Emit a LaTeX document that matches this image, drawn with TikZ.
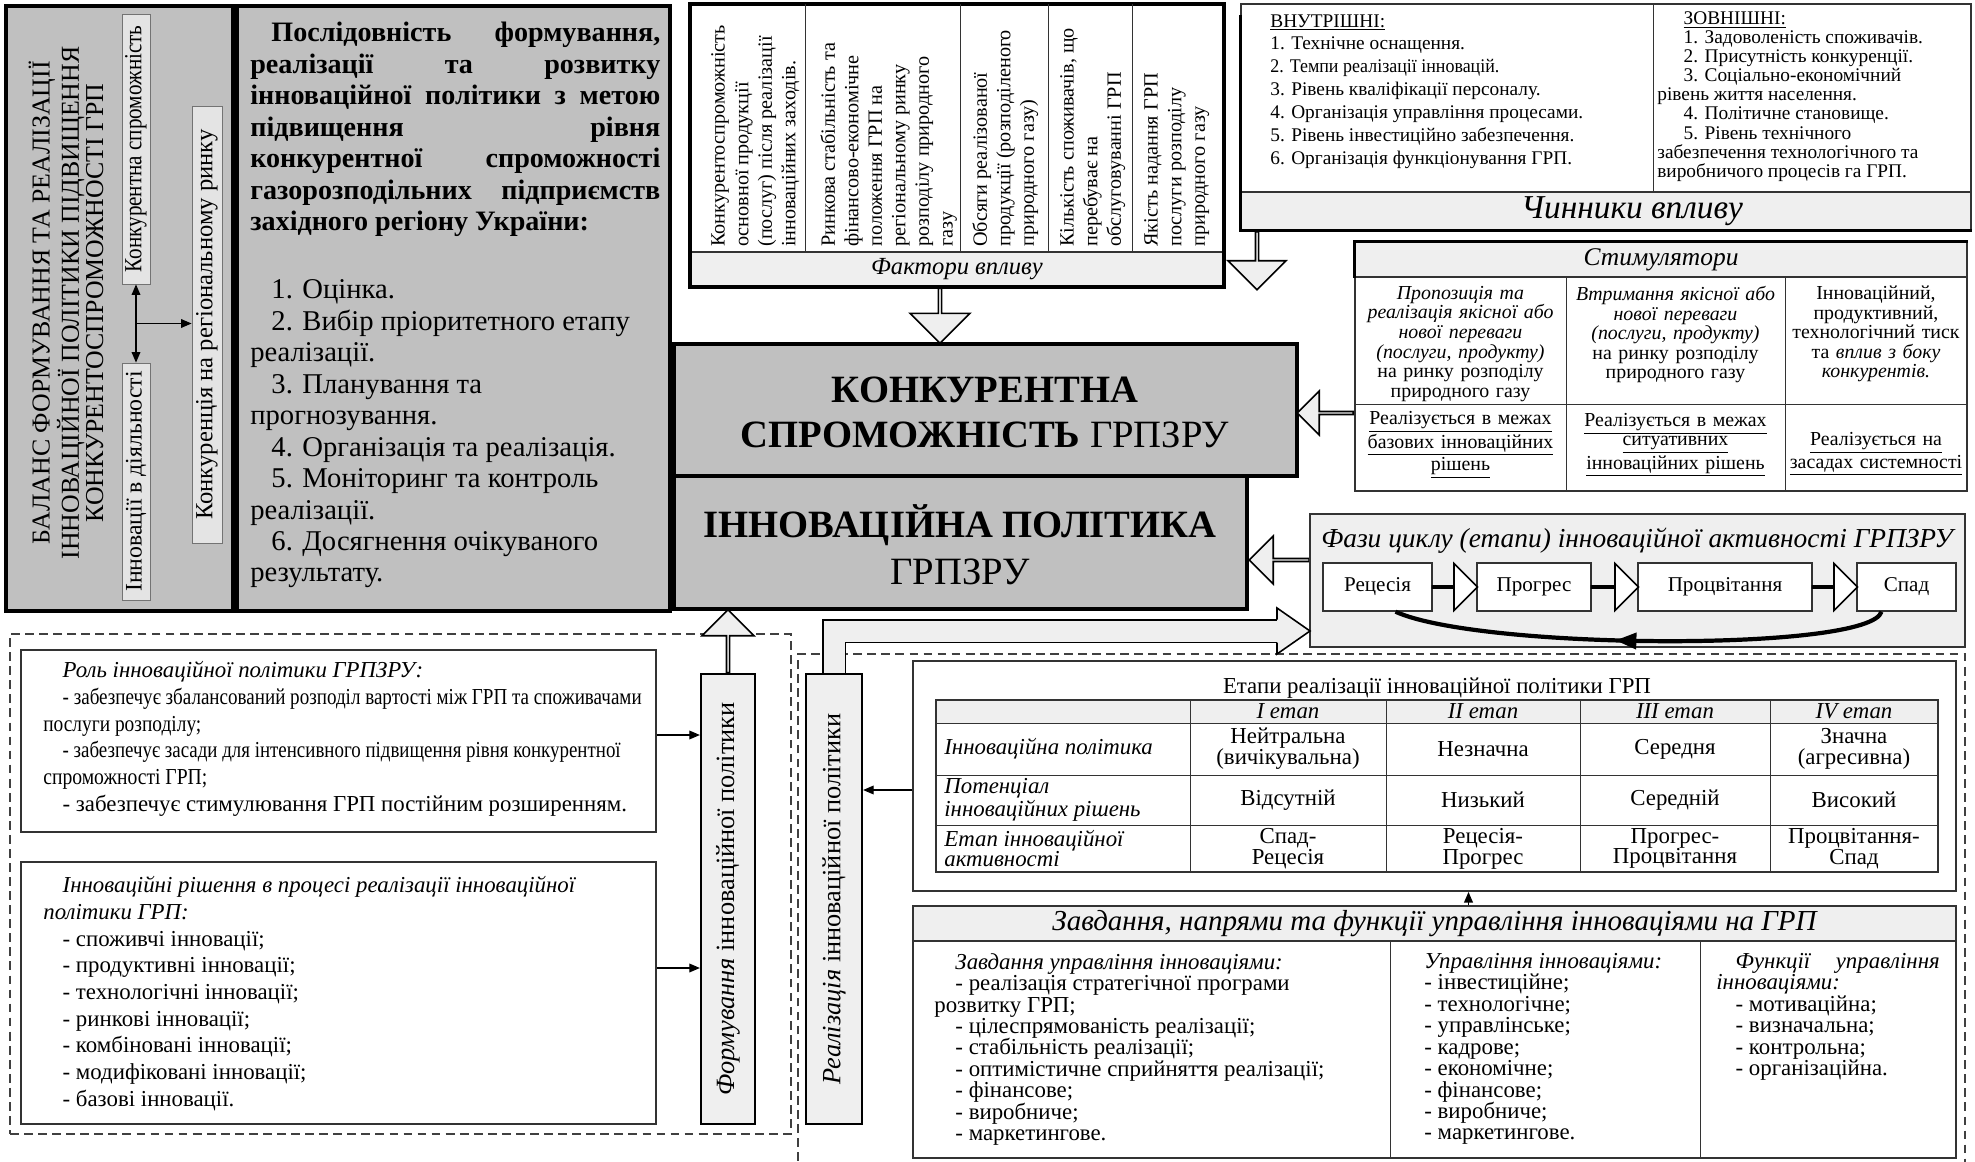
\documentclass[tikz,border=0pt]{standalone}
\usepackage{fontspec}
\usepackage{graphicx}
\setmainfont{Liberation Serif}
\newfontfamily\narrowfont[FakeStretch=0.86]{Liberation Serif}
\usetikzlibrary{positioning,fit,calc,shapes.arrows,arrows.meta,decorations.markings}
\definecolor{panelgray}{HTML}{C0C0C0}
\definecolor{stripgray}{HTML}{EFEFEF}
\definecolor{taggray}{HTML}{E4E4E4}
\definecolor{linegray}{HTML}{333333}
\newlength\px
\setlength\px{0.02cm}
\newcommand\fsz[2]{\fontsize{#1}{#2}\selectfont}
\newcommand\squeeze[2]{\resizebox{#1\px}{\height}{#2}}
\tikzset{
panel/.style={draw=black,line width=2pt,fill=panelgray,inner sep=0pt},
thinbox/.style={draw=linegray,line width=0.7pt,inner sep=0pt},
stripbox/.style={draw=linegray,line width=0.7pt,fill=stripgray,inner sep=0pt},
tagbox/.style={draw=black!55,line width=0.5pt,fill=taggray,inner sep=0pt},
labelbar/.style={draw=black,line width=1.3pt,fill=stripgray,inner sep=0pt},
phasebox/.style={draw=linegray,line width=0.8pt,fill=white,inner sep=0pt,minimum height=48\px,font=\fsz{12}{14}},
txt/.style={inner sep=0pt,align=left},
colt/.style={inner sep=0pt,align=left,rotate=90,anchor=north west,font=\fsz{11.5}{13.4}},
stimt/.style={inner sep=0pt,align=center,font=\fsz{11.3}{11.1}},
blockarrow/.style={single arrow,draw=black,line width=0.9pt,fill=stripgray,inner sep=0pt,single arrow head extend=#1},
blockarrow/.default=14\px,
arr/.style={line width=0.6pt,-{Triangle[length=6pt,width=5pt]}},
darr/.style={line width=0.6pt,{Triangle[length=6pt,width=5pt]}-{Triangle[length=6pt,width=5pt]}},
dashbox/.style={draw=black!75,line width=0.6pt,dash pattern=on 5pt off 3pt},
}
\begin{document}
\begin{tikzpicture}[x=0.02cm,y=-0.02cm]
\useasboundingbox (0,0) rectangle (1975,1162);
\fill[white] (0,0) rectangle (1975,1162);

\node[panel,fit={(6,6) (233,611)}] (bal) {};
\node[txt,align=center,rotate=90,font=\fsz{14.7}{13.8}] (baltitle) at (66,303) {БАЛАНС ФОРМУВАННЯ ТА РЕАЛІЗАЦІЇ\\ІННОВАЦІЙНОЇ ПОЛІТИКИ ПІДВИЩЕННЯ\\КОНКУРЕНТОСПРОМОЖНОСТІ ГРП};
\node[tagbox,fit={(122,14) (150,284)}] (kons) {};
\node[txt,rotate=90,font=\narrowfont\fsz{14}{14}] (konstxt) at (kons.center) {Конкурентна спроможність};
\node[tagbox,fit={(122,363) (150,600)}] (innov) {};
\node[txt,rotate=90,font=\fsz{13.5}{14}] (innovtxt) at (innov.center) {Інновації в діяльності};
\node[tagbox,fit={(192,106) (222,543)}] (reg) {};
\node[txt,rotate=90,font=\fsz{14}{14}] (regtxt) at (reg.center) {Конкуренція на регіональному ринку};
\draw[darr] (kons.south) -- (innov.north);
\coordinate (balmid) at ($(kons.south)!0.5!(innov.north)$);
\draw[arr] (balmid) -- (balmid -| reg.west);

\node[panel,fit={(237,6) (670,611)}] (seq) {};
\node[txt,anchor=north west,text width=410\px,align=justify,font=\fsz{16}{17.9}] (seqtxt) at (250,22) {\textbf{\hspace*{12pt}Послідовність формування,\linebreak реалізації та розвитку\linebreak інноваційної політики з метою\linebreak підвищення рівня\linebreak конкурентної спроможності\linebreak газорозподільних підприємств\linebreak західного регіону України:}\\[21pt]
\fsz{16.3}{17.9}\hspace*{12pt}1. Оцінка.\\
\hspace*{12pt}2. Вибір пріоритетного етапу\\
реалізації.\\
\hspace*{12pt}3. Планування та\\
прогнозування.\\
\hspace*{12pt}4. Організація та реалізація.\\
\hspace*{12pt}5. Моніторинг та контроль\\
реалізації.\\
\hspace*{12pt}6. Досягнення очікуваного\\
результату.};

\node[stripbox,fit={(690,252) (1224,287)}] (factstrip) {};
\node[txt,font=\fsz{14}{16}\itshape] (facttitle) at (factstrip.center) {Фактори впливу};
\node[draw=black,line width=1.8pt,inner sep=0pt,fit={(690,4) (1224,287)}] (fact) {};
\foreach \x in {805,960,1048,1132} \draw[linegray,line width=0.5pt] (\x,4) -- (\x,252);
\node[colt] (fact1) at (711,247) {Конкурентоспроможність\\основної продукції\\(послуг) після реалізації\\інноваційних  заходів.};
\node[colt] (fact2) at (820,247) {Ринкова стабільність та\\фінансово-економічне\\положення ГРП на\\регіональному ринку\\розподілу природного\\газу};
\node[colt] (fact3) at (972,247) {Обсяги реалізованої\\продукції (розподіленого\\природного газу)};
\node[colt] (fact4) at (1060,247) {Кількість споживачів, що\\перебуває на\\обслуговуванні ГРП};
\node[colt] (fact5) at (1144,247) {Якість надання ГРП\\послуги розподілу\\природного газу};

\node[stripbox,fit={(1241,192) (1971,230)}] (chinstrip) {};
\node[txt,font=\fsz{19}{20}\itshape] (chintitle) at (1632,211) {Чинники впливу};
\node[thinbox,fit={(1241,4) (1971,230)}] (chin) {};
\draw[linegray,line width=0.5pt] (1653,4) -- (1653,192);
\draw[line width=1.8pt] ([yshift=-12\px]chin.north west) |- (chin.south east);
\node[txt,anchor=north west,font=\fsz{11}{13}] (inttxt) at (1270,14) {\underline{ВНУТРІШНІ:}\\
1. Технічне оснащення.\\
\squeeze{229}{2. Темпи реалізації інновацій.}\\
3. Рівень кваліфікації персоналу.\\
4. Організація управління процесами.\\
5. Рівень інвестиційно забезпечення.\\
6. Організація функціонування ГРП.};
\node[txt,anchor=north west,font=\fsz{11}{10.9}] (exttxt) at (1657,11) {\hspace*{15pt}\underline{ЗОВНІШНІ:}\\
\hspace*{15pt}1. Задоволеність споживачів.\\
\hspace*{15pt}2. Присутність конкуренції.\\
\hspace*{15pt}3. Соціально-економічний\\
рівень життя населення.\\
\hspace*{15pt}4. Політичне становище.\\
\hspace*{15pt}5. Рівень технічного\\
забезпечення технологічного та\\
виробничого процесів га ГРП.};

\node[stripbox,fit={(1355,242) (1967,277)}] (stimhead) {};
\node[txt,font=\fsz{14.5}{16}\itshape] (stimtitle) at (stimhead.center) {Стимулятори};
\node[thinbox,fit={(1355,242) (1967,491)}] (stim) {};
\draw[linegray,line width=0.5pt] (1355,404) -- (1967,404) (1566,277) -- (1566,491) (1785,277) -- (1785,491);
\draw[line width=1.6pt] (stimhead.south west) |- (stimhead.north east);
\node[stimt,anchor=north,text width=209\px] (stima) at (1460.5,286) {\textit{Пропозиція та}\\\textit{реалізація якісної або}\\\textit{нової переваги}\\\textit{(послуги, продукту)}\\на ринку розподілу\\природного газу};
\node[stimt,anchor=north,text width=216\px] (stimb) at (1675.5,286) {\textit{Втримання якісної або}\\\textit{нової переваги}\\\textit{(послуги, продукту)}\\на ринку розподілу\\природного газу};
\node[stimt,anchor=north,text width=180\px] (stimc) at (1876,286) {Інноваційний,\\продуктивний,\\технологічний тиск\\та \textit{вплив з боку}\\\textit{конкурентів.}};
\node[stimt,text width=209\px] (stimd) at (1460.5,445) {\underline{Реалізується в межах}\\\underline{базових інноваційних}\\\underline{рішень}};
\node[stimt,text width=216\px] (stime) at (1675.5,445) {\underline{Реалізується в межах}\\\underline{ситуативних}\\\underline{інноваційних рішень}};
\node[stimt,text width=180\px] (stimf) at (1876,454) {\underline{Реалізується на}\\\underline{засадах  системності}};

\node[panel,line width=2.4pt,fit={(674,476) (1247,609)}] (innpol) {};
\node[txt,align=center,font=\fsz{22}{26.7}] (innpoltxt) at (960,545) {\textbf{ІННОВАЦІЙНА ПОЛІТИКА}\\ГРПЗРУ};
\node[panel,line width=2.4pt,fit={(674,344) (1297,476)}] (konk) {};
\node[txt,align=center,font=\fsz{22}{25.6}] (konktxt) at (985,412) {\textbf{КОНКУРЕНТНА}\\\textbf{СПРОМОЖНІСТЬ} ГРПЗРУ};

\node[blockarrow=14\px,rotate=-90,minimum height=55\px,minimum width=60\px] (factarrow) at (940,315) {};
\node[blockarrow=14\px,rotate=-90,minimum height=58\px,minimum width=58\px] (chinarrow) at (1257,260) {};
\node[blockarrow=11\px,rotate=180,minimum height=56\px,minimum width=44\px] (stimarrow) at (1326,413) {};
\node[blockarrow=12\px,rotate=180,minimum height=60\px,minimum width=48\px] (phasearrow) at (1280,560) {};

\node[stripbox,draw=linegray,line width=1.3pt,fit={(1310,514) (1965,647)}] (phase) {};
\node[txt,font=\fsz{15.6}{18}\itshape] (phasetitle) at (1637,541) {Фази циклу (етапи) інноваційної активності ГРПЗРУ};
\node[phasebox,minimum width=109\px] (recess) at (1377.5,587) {Рецесія};
\node[phasebox,minimum width=114\px] (progress) at (1534,587) {Прогрес};
\node[phasebox,minimum width=174\px] (prosper) at (1725,587) {Процвітання};
\node[phasebox,minimum width=99\px] (decline) at (1906.5,587) {Спад};
\node[blockarrow=17.5\px,fill=white,minimum height=45\px,minimum width=47\px] (pa1) at ($(recess.east)!0.5!(progress.west)$) {};
\node[blockarrow=17.5\px,fill=white,minimum height=47\px,minimum width=47\px] (pa2) at ($(progress.east)!0.5!(prosper.west)$) {};
\node[blockarrow=17.5\px,fill=white,minimum height=45\px,minimum width=47\px] (pa3) at ($(prosper.east)!0.5!(decline.west)$) {};
\draw[line width=2.4pt,postaction={decorate},decoration={markings,mark=at position 0.55 with {\arrow{Triangle[length=12pt,width=9pt]}}}] ([xshift=-25\px]decline.south) .. controls (1870,652) and (1480,650) .. ([xshift=18\px]recess.south);

\node[dashbox,inner sep=0pt,fit={(10,634) (791,1134)}] (formzone) {};
\draw[dashbox] (798,1175) |- (1965,654) -- (1965,1175);

\node[thinbox,line width=0.9pt,fit={(21,650) (656,832)}] (role) {};
\node[txt,anchor=north west,font=\fsz{13}{15.2}] (roletxt) at (43,661) {\hspace*{11pt}\textit{Роль інноваційної політики ГРПЗРУ:}\\
\hspace*{11pt}\squeeze{579}{- забезпечує збалансований розподіл вартості між ГРП та споживачами}\\
\squeeze{158}{послуги розподілу;}\\
\hspace*{11pt}\squeeze{558}{- забезпечує засади для інтенсивного підвищення рівня конкурентної}\\
\squeeze{164}{спроможності ГРП;}\\
\hspace*{11pt}- забезпечує  стимулювання ГРП постійним розширенням.};
\node[thinbox,line width=0.9pt,fit={(21,862) (656,1124)}] (sol) {};
\node[txt,anchor=north west,font=\fsz{13}{15.2}] (soltxt) at (43,876) {\hspace*{11pt}\textit{Інноваційні рішення в процесі реалізації інноваційної}\\
\textit{політики ГРП:}\\
\hspace*{11pt}- споживчі інновації;\\
\hspace*{11pt}- продуктивні інновації;\\
\hspace*{11pt}- технологічні інновації;\\
\hspace*{11pt}- ринкові інновації;\\
\hspace*{11pt}- комбіновані інновації;\\
\hspace*{11pt}- модифіковані інновації;\\
\hspace*{11pt}- базові інновації.};

\node[labelbar,fit={(701,674) (755,1124)}] (form) {};
\node[txt,rotate=90,font=\fsz{15}{17}] (formtxt) at (form.center) {\textit{Формування} інноваційної політики};
\node[blockarrow=12.5\px,rotate=90,minimum height=63\px,minimum width=52\px] (formarrow) at ($(form.north)!0.5!(form.north |- innpol.south)$) {};
\draw[arr] ([yshift=6\px]role.east) -- ([yshift=6\px]role.east -| form.west);
\draw[arr] ([yshift=25\px]sol.east) -- ([yshift=25\px]sol.east -| form.west);

\coordinate (rhead) at (1277,631);
\draw[draw=black,line width=0.9pt,double=stripgray,double distance=21\px] (834,674) |- (rhead);
\filldraw[fill=stripgray,draw=black,line width=0.9pt] (rhead) ++(0,-11.5) -- ++(0,-11.5) -- ++(33,23) -- ++(-33,23) -- ++(0,-11.5);
\node[labelbar,fit={(806,674) (862,1124)}] (real) {};
\node[txt,rotate=90,font=\fsz{15}{17}] (realtxt) at (real.center) {\textit{Реалізація} інноваційної політики};

\node[thinbox,line width=1.1pt,fit={(913,661) (1956,891)}] (stages) {};
\node[txt,font=\fsz{13}{15}] (stagestitle) at (1437,688) {Етапи реалізації інноваційної політики ГРП};
\fill[stripgray] (936,700) rectangle (1938,723);
\draw[linegray,line width=0.6pt] (936,700) rectangle (1938,872);
\foreach \y in {723,775,825} \draw[linegray,line width=0.5pt] (936,\y) -- (1938,\y);
\foreach \x in {1190,1386,1580,1770} \draw[linegray,line width=0.5pt] (\x,700) -- (\x,872);
\foreach \x/\t [count=\i] in {1288/I,1483/II,1675/III,1854/IV} \node[txt,font=\fsz{13}{14}\itshape] (head\i) at (\x,711.5) {\t\ етап};
\foreach \y/\lab/\va/\vb/\vc/\vd [count=\r] in {749/{Інноваційна політика}/{Нейтральна\\(вичікувальна)}/{Незначна}/{Середня}/{Значна\\(агресивна)},800/{Потенціал\\інноваційних рішень}/{Відсутній}/{Низький}/{Середній}/{Високий},848.5/{Етап інноваційної\\активності}/{Спад-\\Рецесія}/{Рецесія-\\Прогрес}/{Прогрес-\\Процвітання}/{Процвітання-\\Спад}}{
\node[txt,anchor=west,font=\fsz{13}{11.8}\itshape] (lab\r) at (944,\y) {\lab};
\node[txt,align=center,font=\fsz{13}{11.8}] (va\r) at (1288,\y) {\va};
\node[txt,align=center,font=\fsz{13}{11.8}] (vb\r) at (1483,\y) {\vb};
\node[txt,align=center,font=\fsz{13}{11.8}] (vc\r) at (1675,\y) {\vc};
\node[txt,align=center,font=\fsz{13}{11.8}] (vd\r) at (1854,\y) {\vd};
}
\draw[arr] ([yshift=-14\px]stages.west) -- ([yshift=-14\px]stages.west -| real.east);

\node[stripbox,fit={(913,906) (1956,941)}] (taskhead) {};
\node[txt,font=\fsz{16.5}{18}\itshape] (tasktitle) at (taskhead.center) {Завдання, напрями та функції управління інноваціями на ГРП};
\node[thinbox,line width=1.1pt,fit={(913,906) (1956,1158)}] (tasks) {};
\draw[linegray,line width=0.5pt] (1390,941) -- (1390,1158) (1700,941) -- (1700,1158);
\node[txt,anchor=north west,font=\fsz{13}{12.2}] (taska) at (934,953) {\hspace*{12pt}\textit{Завдання управління інноваціями:}\\
\hspace*{12pt}- реалізація  стратегічної програми\\
розвитку ГРП;\\
\hspace*{12pt}- цілеспрямованість  реалізації;\\
\hspace*{12pt}- стабільність  реалізації;\\
\hspace*{12pt}- оптимістичне сприйняття реалізації;\\
\hspace*{12pt}- фінансове;\\
\hspace*{12pt}- виробниче;\\
\hspace*{12pt}- маркетингове.};
\node[txt,anchor=north west,font=\fsz{13}{12.2}] (taskb) at (1424,953) {\textit{Управління інноваціями:}\\
- інвестиційне;\\
- технологічне;\\
- управлінське;\\
- кадрове;\\
- економічне;\\
- фінансове;\\
- виробниче;\\
- маркетингове.};
\node[txt,anchor=north west,font=\fsz{13}{12.2}] (taskc) at (1716,953) {\hspace*{11pt}\textit{Функції}\hspace{14pt}\textit{управління}\\
\textit{інноваціями:}\\
\hspace*{11pt}- мотиваційна;\\
\hspace*{11pt}- визначальна;\\
\hspace*{11pt}- контрольна;\\
\hspace*{11pt}- організаційна.};
\draw[arr] ([xshift=34\px]tasks.north) -- ([xshift=34\px]stages.south);
\end{tikzpicture}
\end{document}
